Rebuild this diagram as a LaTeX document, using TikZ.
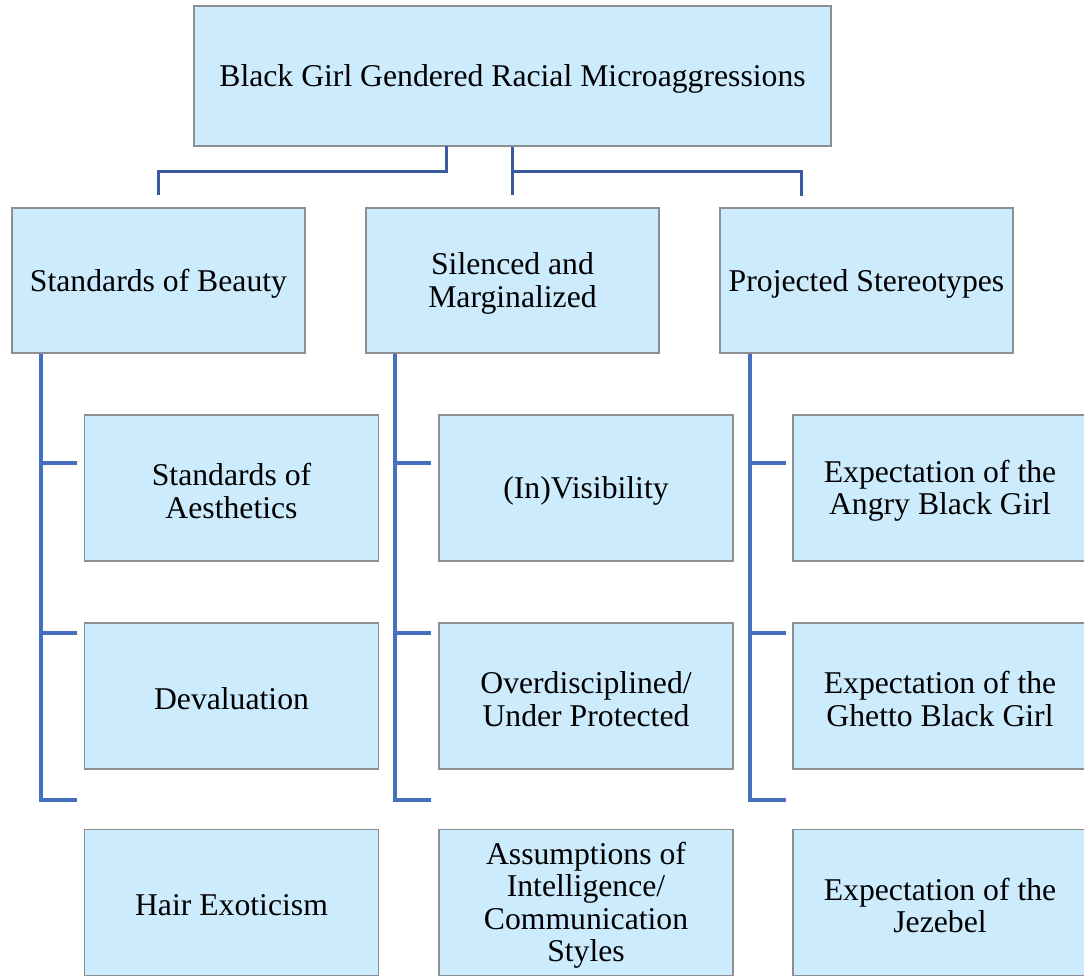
\documentclass[tikz,border=0pt]{standalone}
\usepackage{fontspec}
\setmainfont{Liberation Serif}
\definecolor{boxfill}{HTML}{CCEBFC}
\definecolor{boxgray}{HTML}{8C8F92}
\definecolor{topline}{HTML}{3A5C9E}
\definecolor{colline}{HTML}{4470BF}
\tikzset{
  box/.style={draw=boxgray, fill=boxfill, line width=1.6pt, inner sep=0pt},
  topbox/.style={box, minimum width=637pt, minimum height=140pt},
  catbox/.style={box, minimum width=293pt, minimum height=145pt},
  leafbox/.style={box, minimum width=294pt, minimum height=146pt},
  label text/.style={inner sep=0pt, align=center, font=\fontsize{31.7}{32.5}\selectfont},
  toplink/.style={draw=topline, line width=3pt},
  collink/.style={draw=colline, line width=3.2pt},
}
\newcommand{\boxtext}[2]{\node[label text] (#1t) at ([yshift=-3pt]#1.center) {#2};}
\begin{document}
\begin{tikzpicture}[x=1pt, y=-1pt]
\useasboundingbox (0,0) rectangle (1084,976);
% top
\node[topbox] (top) at (512.5,76) {};
% categories
\node[catbox] (b1) at (158.5,280.5) {};
\node[catbox] (b2) at (512.5,280.5) {};
\node[catbox] (b3) at (866.5,280.5) {};
% leaves
\node[leafbox] (c11) at (231.5,488) {};
\node[leafbox] (c12) at (231.5,696) {};
\node[leafbox] (c13) at (231.5,902.5) {};
\node[leafbox] (c21) at (586,488) {};
\node[leafbox] (c22) at (586,696) {};
\node[leafbox] (c23) at (586,902.5) {};
\node[leafbox] (c31) at (940,488) {};
\node[leafbox] (c32) at (940,696) {};
\node[leafbox] (c33) at (940,902.5) {};
% texts
\boxtext{top}{Black Girl Gendered Racial Microaggressions}
\boxtext{b1}{Standards of Beauty}
\boxtext{b2}{Silenced and\\Marginalized}
\boxtext{b3}{Projected Stereotypes}
\boxtext{c11}{Standards of\\Aesthetics}
\boxtext{c12}{Devaluation}
\boxtext{c13}{Hair Exoticism}
\boxtext{c21}{(In)Visibility}
\boxtext{c22}{Overdisciplined/\\Under Protected}
\boxtext{c23}{Assumptions of\\Intelligence/\\Communication\\Styles}
\boxtext{c31}{Expectation of the\\Angry Black Girl}
\boxtext{c32}{Expectation of the\\Ghetto Black Girl}
\boxtext{c33}{Expectation of the\\Jezebel}
% connector helper coordinates
\coordinate (s1) at (446,146);
\coordinate (h1) at (446,172);
\coordinate (h2) at (512.5,172);
\coordinate (e3) at (801,196);
% top connectors
\draw[toplink] (s1) -- (h1) -| ([yshift=12pt]b1.north);
\draw[toplink] (top.south) -- ([yshift=12pt]b2.north);
\draw[toplink] (h2) -| (e3);
% column connectors
\foreach \b/\vx in {b1/41, b2/395, b3/750}{
  \draw[collink] (\b.south -| \vx,0) -- (\vx,800) -- ++(36,0);
  \draw[collink] (\vx,463) -- ++(36,0);
  \draw[collink] (\vx,633) -- ++(36,0);
}
\end{tikzpicture}
\end{document}
